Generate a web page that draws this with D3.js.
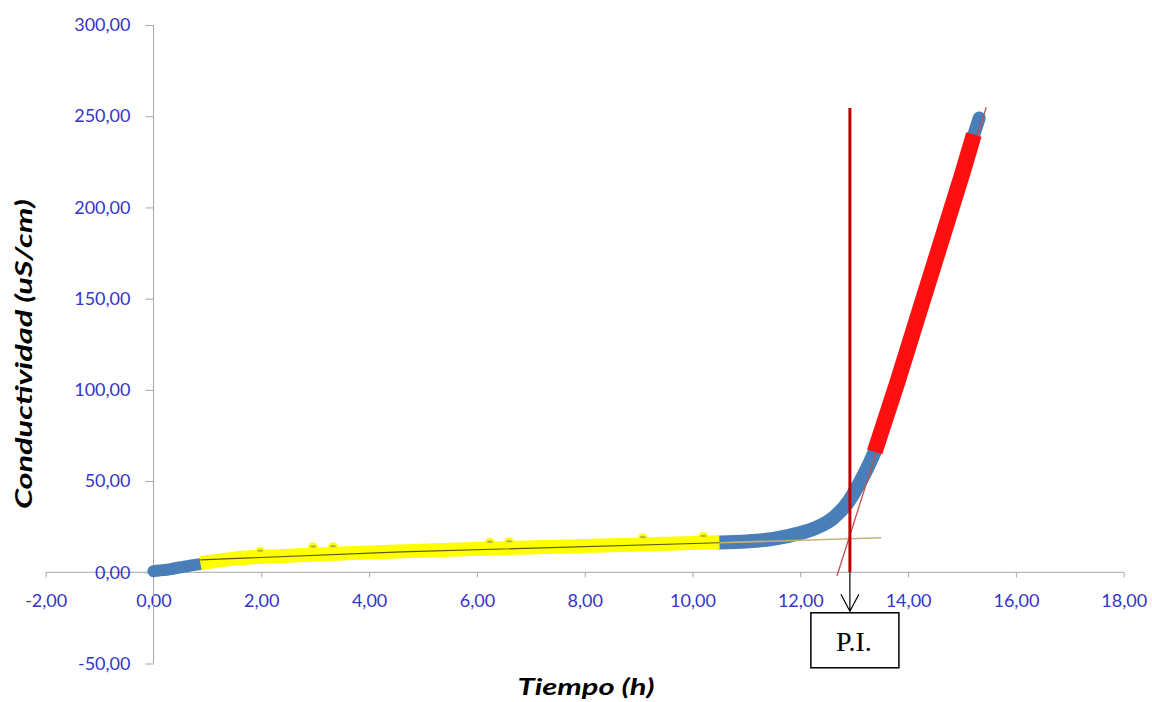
<!DOCTYPE html>
<html>
<head>
<meta charset="utf-8">
<script src="https://cdn.jsdelivr.net/npm/d3@7"></script>
<style>
  body { margin: 0; background: #fff; }
  svg { display: block; }
</style>
</head>
<body>
<div id="chart"></div>
<script>
// conductividad vs tiempo (h)
const xTicks = [-2, 0, 2, 4, 6, 8, 10, 12, 14, 16, 18];
const yTicks = [-50, 0, 50, 100, 150, 200, 250, 300];

const blueStart = [[0.0, 0.6], [0.1, 1.0], [0.25, 1.4], [0.4, 2.2], [0.55, 3.0], [0.7, 3.8], [0.87, 4.5]];
const yellowPts = [[0.87, 5.0], [1.5, 7.5], [2.5, 9.0], [3.5, 10.3], [4.5, 11.4], [5.5, 12.3], [6.5, 13.2],
  [7.5, 14.0], [8.5, 14.8], [9.5, 15.6], [10.5, 16.5]];
const yellowOutliers = [[1.98, 11.3], [2.96, 13.6], [3.33, 13.7], [6.24, 16.2], [6.6, 16.4], [9.08, 18.7], [10.2, 19.4]];
const blueMid = [[10.5, 16.3], [11.0, 16.9], [11.5, 18.3], [12.0, 21.5], [12.3, 24.5], [12.6, 29.5], [12.9, 39.0],
  [13.1, 49.0], [13.25, 57.5], [13.38, 66.0]];
const redPts = [[13.38, 66], [13.8, 104], [14.2, 142], [14.6, 180], [15.0, 218], [15.22, 240]];
const blueEnd = [[15.2, 238], [15.32, 249]];

const baseFit = [[0.87, 6.8], [4.6, 11.2], [10.5, 16.2]];
const baseFitExt = [[10.5, 16.2], [13.5, 18.9]];
const tangentFit = [[12.68, -2], [15.45, 255]];
const piTime = 12.92;
const piTop = 254.5;

const width = 1152, height = 702;
const margin = { top: 25, right: 28.3, bottom: 38.5, left: 45.7 };

const x = d3.scaleLinear().domain([-2, 18]).range([margin.left, width - margin.right]);
const y = d3.scaleLinear().domain([-50, 300]).range([height - margin.bottom, margin.top]);

const fmt = v => d3.format(".2f")(v).replace(".", ",").replace("\u2212", "-");

const svg = d3.select("#chart").append("svg")
  .attr("width", width)
  .attr("height", height);

// axes cross at 0,0
const xAxis = svg.append("g")
  .attr("transform", `translate(0,${y(0)})`)
  .call(d3.axisBottom(x).tickValues(xTicks).tickSize(5).tickFormat(fmt));
xAxis.select(".domain").attr("stroke", "#a6a6a6").attr("d", `M${x(-2)},0H${x(18)}`);
xAxis.selectAll(".tick line").attr("stroke", "#a6a6a6");
xAxis.selectAll(".tick text")
  .attr("y", 22)
  .attr("dy", "0.71em")
  .attr("fill", "#3535c8")
  .style("font-family", "Lato, 'Open Sans', sans-serif")
  .style("font-size", "18px");

const yAxis = svg.append("g")
  .attr("transform", `translate(${x(0)},0)`)
  .call(d3.axisLeft(y).tickValues(yTicks).tickSize(8).tickFormat(fmt));
yAxis.select(".domain").attr("stroke", "#a6a6a6").attr("d", `M0,${y(-50)}V${y(300)}`);
yAxis.selectAll(".tick line").attr("stroke", "#a6a6a6");
yAxis.selectAll(".tick text")
  .attr("x", -23)
  .attr("fill", "#3535c8")
  .style("font-family", "Lato, 'Open Sans', sans-serif")
  .style("font-size", "18px");

// axis titles
svg.append("text")
  .attr("transform", `translate(32,${354}) rotate(-90)`)
  .attr("text-anchor", "middle")
  .attr("textLength", 310)
  .attr("lengthAdjust", "spacingAndGlyphs")
  .style("font-family", "Lato, sans-serif")
  .style("font-weight", "bold")
  .style("font-style", "italic")
  .style("font-size", "22px")
  .text("Conductividad (uS/cm)");

svg.append("text")
  .attr("x", 586)
  .attr("y", 695)
  .attr("text-anchor", "middle")
  .attr("textLength", 137)
  .attr("lengthAdjust", "spacingAndGlyphs")
  .style("font-family", "Lato, sans-serif")
  .style("font-weight", "bold")
  .style("font-style", "italic")
  .style("font-size", "22px")
  .text("Tiempo (h)");

const line = d3.line().x(d => x(d[0])).y(d => y(d[1]));
const smooth = d3.line().x(d => x(d[0])).y(d => y(d[1])).curve(d3.curveMonotoneX);

const band = (pts, color, w, gen) => svg.append("path")
  .datum(pts)
  .attr("d", gen || line)
  .attr("fill", "none")
  .attr("stroke", color)
  .attr("stroke-width", w)
  .attr("stroke-linejoin", "round")
  .attr("stroke-linecap", "round");

band(blueStart, "#4a7eb9", 12, smooth);
band(blueMid, "#4a7eb9", 14, smooth);
band(blueEnd, "#4a7eb9", 13);

// yellow segment has flat ends
band(yellowPts, "#ffff00", 14, smooth).attr("stroke-linecap", "butt");

svg.append("g").selectAll("circle")
  .data(yellowOutliers)
  .join("circle")
  .attr("cx", d => x(d[0]))
  .attr("cy", d => y(d[1]))
  .attr("r", 5)
  .attr("fill", "#ffff00");
svg.append("g").selectAll("ellipse")
  .data(yellowOutliers)
  .join("ellipse")
  .attr("cx", d => x(d[0]))
  .attr("cy", d => y(d[1]) - 1)
  .attr("rx", 3)
  .attr("ry", 1.2)
  .attr("fill", "#b5b54a");

// tangent sits under the red band
svg.append("path").datum(tangentFit).attr("d", line)
  .attr("fill", "none").attr("stroke", "#c0504d").attr("stroke-width", 1.3);

band(redPts, "#ff1010", 16).attr("stroke-linecap", "butt");

// baseline trend lines
svg.append("path").datum(baseFitExt).attr("d", line)
  .attr("fill", "none").attr("stroke", "#c8b27c").attr("stroke-width", 1.5);
svg.append("path").datum(baseFit).attr("d", line)
  .attr("fill", "none").attr("stroke", "#5a5a10").attr("stroke-width", 1.2);

// inflection point marker
svg.append("line")
  .attr("x1", x(piTime)).attr("x2", x(piTime))
  .attr("y1", y(0)).attr("y2", y(piTop))
  .attr("stroke", "#c00000")
  .attr("stroke-width", 3);

const px = x(piTime);
const ay = y(0);
svg.append("path")
  .attr("d", `M${px},${ay}V${ay + 39}M${px - 9},${ay + 22}L${px},${ay + 39}L${px + 9},${ay + 22}`)
  .attr("fill", "none")
  .attr("stroke", "#000")
  .attr("stroke-width", 1.2);

svg.append("rect")
  .attr("x", px - 39)
  .attr("y", ay + 40.5)
  .attr("width", 88)
  .attr("height", 55)
  .attr("fill", "#fff")
  .attr("stroke", "#000")
  .attr("stroke-width", 1.5);

svg.append("text")
  .attr("x", px + 4)
  .attr("y", ay + 79)
  .attr("text-anchor", "middle")
  .style("font-family", "'Liberation Serif', 'DejaVu Serif', serif")
  .style("font-size", "28px")
  .text("P.I.");
</script>
</body>
</html>
